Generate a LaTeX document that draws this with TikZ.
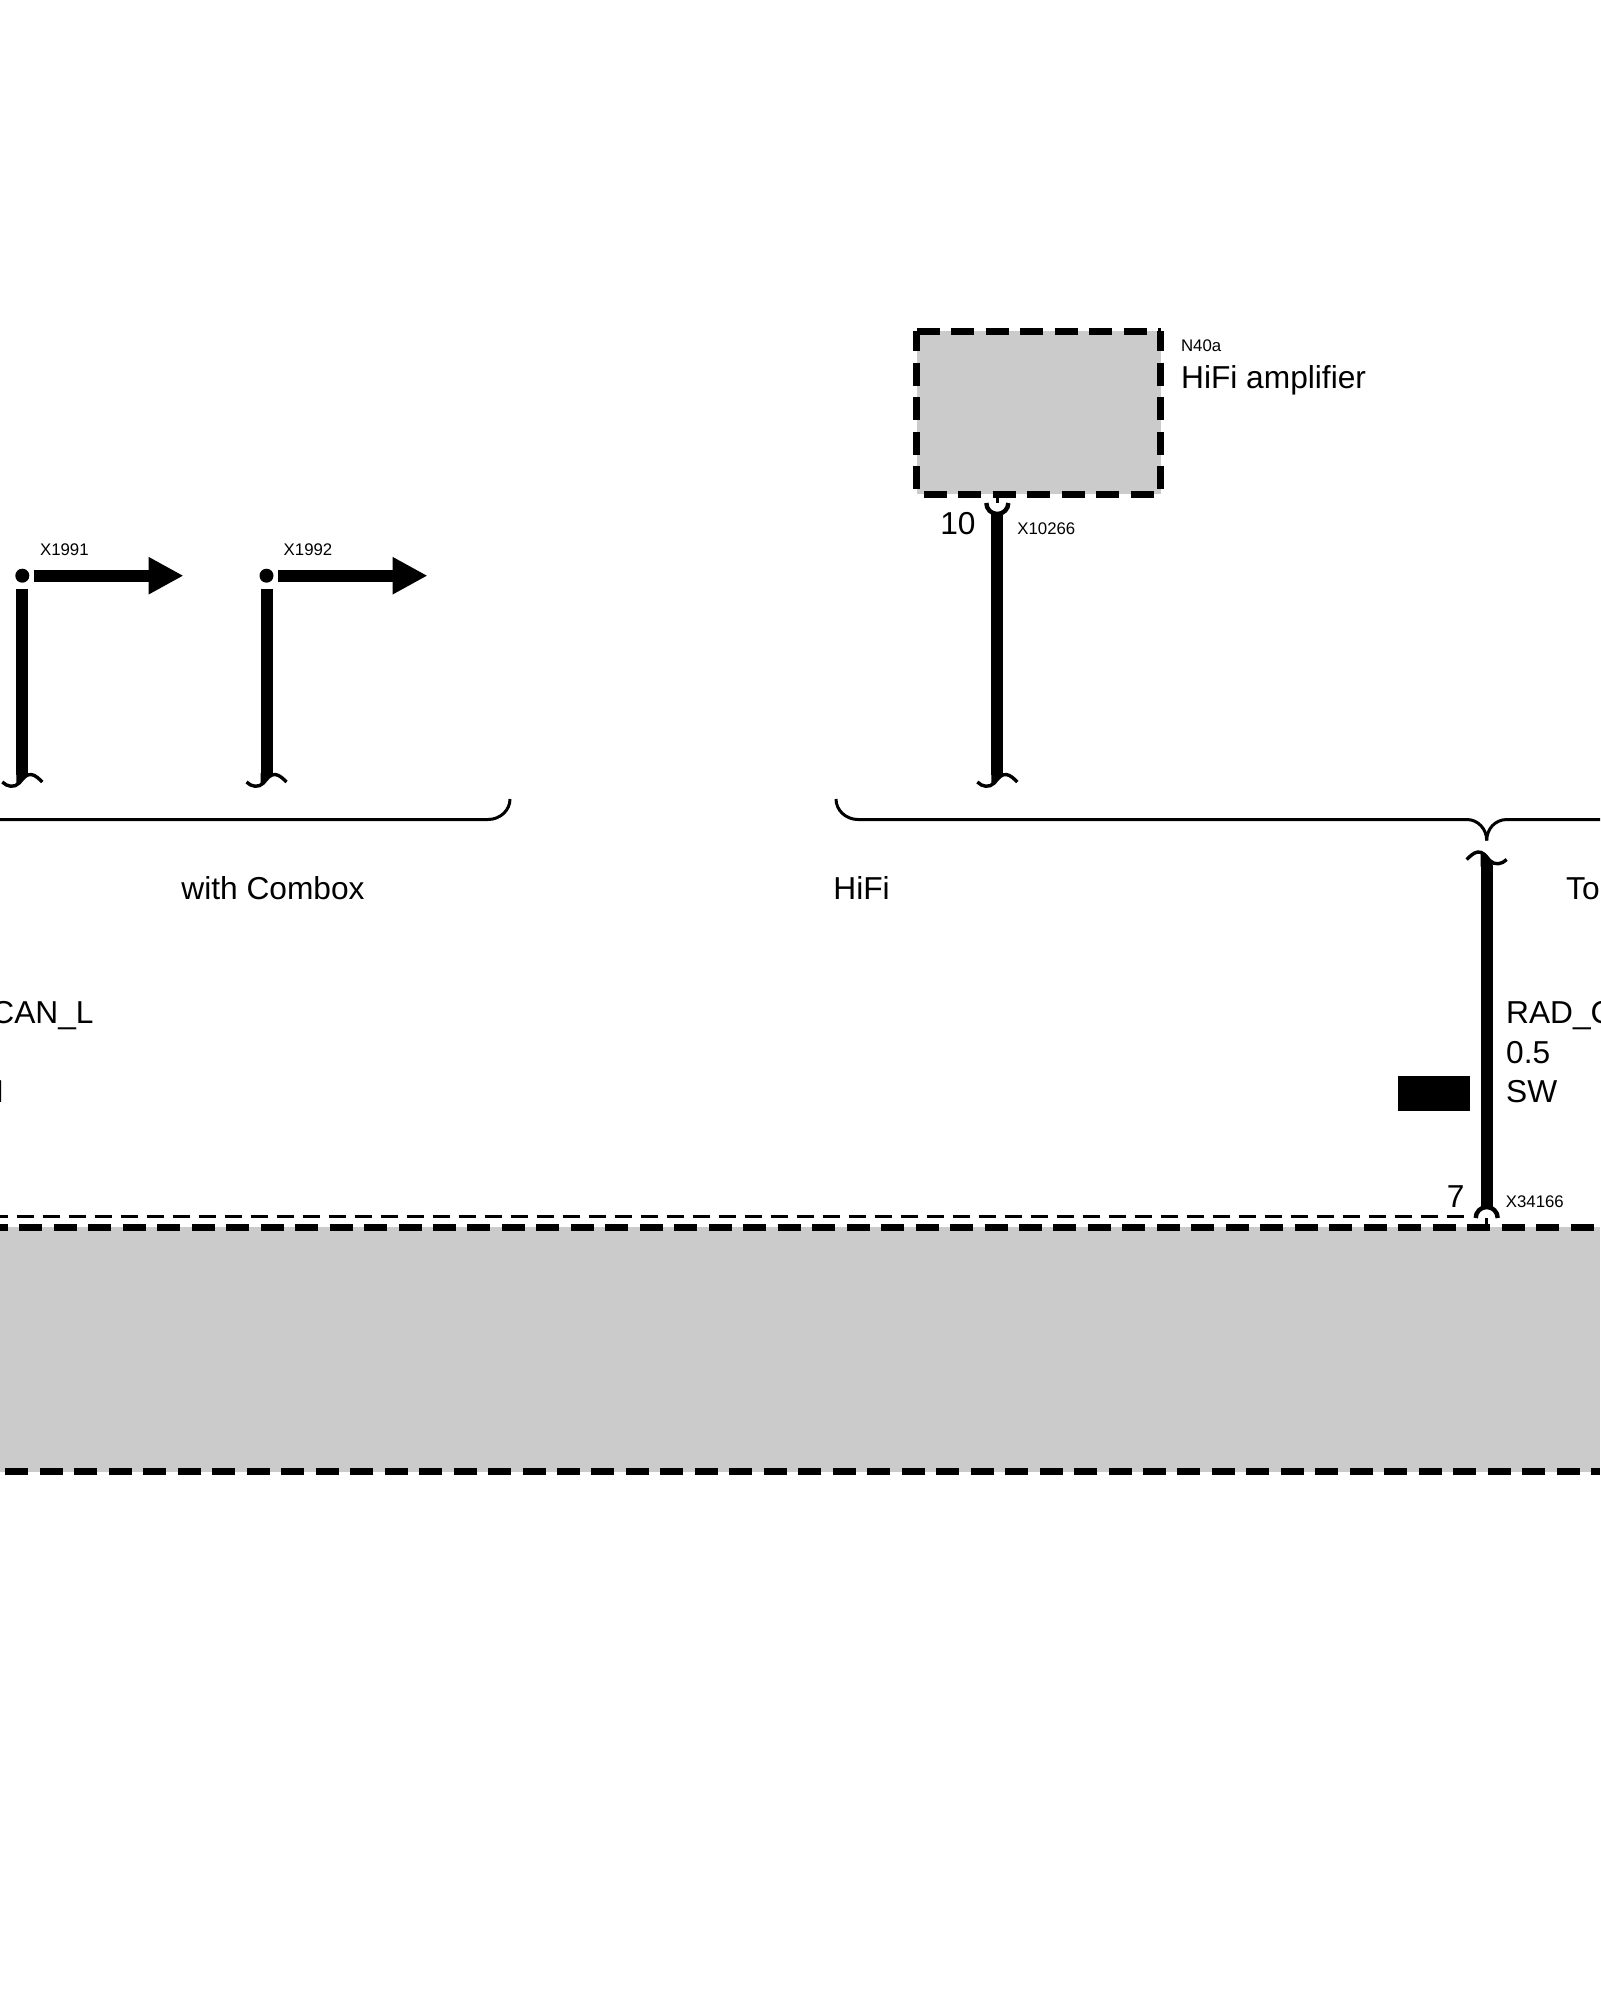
\documentclass[tikz,border=0pt]{standalone}
\usepackage{xcolor}
\usepackage{fontspec}
\usepackage{tikz}
\usetikzlibrary{arrows.meta}
\setmainfont{Liberation Sans}
\definecolor{boxgray}{HTML}{CBCBCB}
\tikzset{
  wire/.style={line width=6pt},
  wirearrow/.style={line width=6pt,-{Triangle[length=17.5pt,width=17.5pt]},shorten <=2pt},
  cupline/.style={line width=2.2pt},
  stub/.style={line width=1.5pt},
  brace/.style={line width=1.5pt},
  boxedge/.style={line width=3.5pt,dash pattern=on 11.5pt off 5.735pt},
  thindash/.style={line width=1.5pt,dash pattern=on 8.67pt off 4.33pt},
  wiredot/.style={circle,fill=black,inner sep=0pt,minimum size=7pt},
  biglabel/.style={inner sep=0pt,font=\fontsize{15.85}{18}\selectfont},
  smalllabel/.style={inner sep=0pt,font=\fontsize{8.4}{10}\selectfont},
  wavecut/.pic={
    \fill (-6,-8) -- (6,-8) -- (6,-6.3) .. controls (2,-5) and (0,-1) .. (-3,2) .. controls (-4,3) and (-5,3.8) .. (-6,4) -- cycle;
    \draw[line width=1.7pt] (-20,1) .. controls (-15,6) and (-8,7) .. (-3,2) .. controls (1,-3) and (4,-7) .. (9,-6.5) .. controls (13,-6) and (17,-2) .. (20,1);
  },
  wavecap/.pic={
    \fill (-6,8) -- (6,8) -- (6,-6.3) .. controls (2,-5) and (0,-1) .. (-3,2) .. controls (-4,3) and (-5,3.8) .. (-6,4) -- cycle;
    \draw[line width=1.7pt] (-20,1) .. controls (-15,6) and (-8,7) .. (-3,2) .. controls (1,-3) and (4,-7) .. (9,-6.5) .. controls (13,-6) and (17,-2) .. (20,1);
  }
}
\begin{document}
\begin{tikzpicture}[x=0.5pt,y=-0.5pt]
  \useasboundingbox[fill=white] (0,0) rectangle (1600,2000);
  \coordinate (AmpA) at (916.7,331.3);
  \coordinate (AmpB) at (1160.7,331.3);
  \coordinate (AmpC) at (1160.7,494.3);
  \coordinate (AmpD) at (916.7,494.3);
  \coordinate (ECUa) at (0,1227.3);
  \coordinate (ECUb) at (1600,1227.3);
  \coordinate (ECUc) at (1600,1471.7);
  \coordinate (ECUd) at (0,1471.7);

  \fill[boxgray] (AmpA) rectangle (AmpC); %amplifier%
  \draw[boxedge] (AmpA) -- (AmpB);
  \draw[boxedge,dash phase=1.55pt] (AmpA) -- (AmpD);
  \draw[boxedge,dash phase=1.55pt] (AmpB) -- (AmpC);
  \draw[boxedge,dash phase=13.7pt] (AmpD) -- (AmpC);
  \node[smalllabel,anchor=base west] (N40a) at (1180.7,352) {N40a};
  \node[biglabel,anchor=base west] (HiFiAmp) at (1180.7,388.7) {HiFi amplifier};

  \fill[boxgray] (ECUa) rectangle (ECUc); %lower unit%
  \draw[boxedge,dash phase=7.55pt] (ECUa) -- (ECUb);
  \draw[boxedge,dash phase=14.5pt] (ECUd) -- (ECUc);
  \coordinate (ShieldA) at (0,1216.6);
  \coordinate (ShieldB) at (1465,1216.6);
  \draw[thindash,dash phase=4.65pt] (ShieldA) -- (ShieldB);

  %branches with arrows%
  \node[wiredot] (DotA) at (22.3,575.7) {};
  \node[wiredot] (DotB) at (266.5,575.7) {};
  \coordinate (EndA) at (22.3,781);
  \coordinate (EndB) at (266.5,781);
  \coordinate (TipA) at (183.5,575.7);
  \coordinate (TipB) at (427.5,575.7);
  \draw[wire,shorten <=2.7pt,shorten >=3pt] (DotA) -- (EndA);
  \draw[wire,shorten <=2.7pt,shorten >=3pt] (DotB) -- (EndB);
  \draw[wirearrow] (DotA) -- (TipA);
  \draw[wirearrow] (DotB) -- (TipB);
  \pic at (EndA) {wavecut};
  \pic at (EndB) {wavecut};
  \node[smalllabel,anchor=base west] (X1991) at (39.7,555) {X1991};
  \node[smalllabel,anchor=base west] (X1992) at (283.3,555) {X1992};

  %amplifier wire%
  \coordinate (PinAmp) at (997.3,503);
  \coordinate (PinAmpBox) at (997.3,494.3);
  \coordinate (EndAmp) at (997.3,781);
  \draw[stub] (PinAmpBox) -- (PinAmp);
  \draw[cupline] (PinAmp) ++(-11,0) arc (180:360:11 and -11);
  \draw[wire,shorten >=3pt] (997.3,514) -- (EndAmp);
  \pic at (EndAmp) {wavecut};
  \node[biglabel,anchor=base east] (PinTen) at (976,534) {10};
  \node[smalllabel,anchor=base west] (X10266) at (1017,534) {X10266};

  %brackets%
  \coordinate (BraceB) at (836,799);
  \coordinate (BraceTip) at (1486.7,840.5);
  \draw[brace] (0,819.5) -- (488,819.5) arc (90:0:22 and 20.5);
  \draw[brace] (BraceB) arc (180:270:22 and -20.5) -- (1466.7,819.5) .. controls (1478,819.5) and (1486.7,829) .. (BraceTip);
  \draw[brace] (BraceTip) .. controls (1486.7,829) and (1495,819.5) .. (1507,819.5) -- (1600,819.5);
  \node[biglabel,anchor=base west] (Combox) at (181,899) {with Combox};
  \node[biglabel,anchor=base west] (HiFi) at (833,899) {HiFi};
  \node[biglabel,anchor=base west] (Top) at (1565.7,899) {To};

  %wire to lower unit%
  \coordinate (EndRad) at (1486.7,858.5);
  \coordinate (WireRad) at (1486.7,1208.5);
  \coordinate (PinRad) at (1486.7,1218);
  \coordinate (PinRadBox) at (1486.7,1227);
  \pic[xscale=-1] at (EndRad) {wavecap};
  \draw[wire,shorten <=3pt] (EndRad) -- (WireRad);
  \draw[cupline] (PinRad) ++(-11,0) arc (180:0:11 and -11);
  \draw[stub] (PinRad) -- (PinRadBox);
  \node[biglabel,anchor=base east] (PinSeven) at (1465,1207.7) {7};
  \node[smalllabel,anchor=base west] (X34166) at (1505.5,1207) {X34166};
  \node[biglabel,anchor=base west] (RadName) at (1505.7,1023) {RAD\_C};
  \node[biglabel,anchor=base west] (RadSize) at (1505.7,1063.7) {0.5};
  \node[biglabel,anchor=base west] (RadColour) at (1505.7,1102.7) {SW};
  \fill (1398.3,1076) rectangle (1470,1110.7);

  \node[biglabel,anchor=base east] (CanName) at (94,1023) {CAN\_L};
  \node[biglabel,anchor=base east] (CanColour) at (4.5,1102.7) {I};
\end{tikzpicture}
\end{document}
